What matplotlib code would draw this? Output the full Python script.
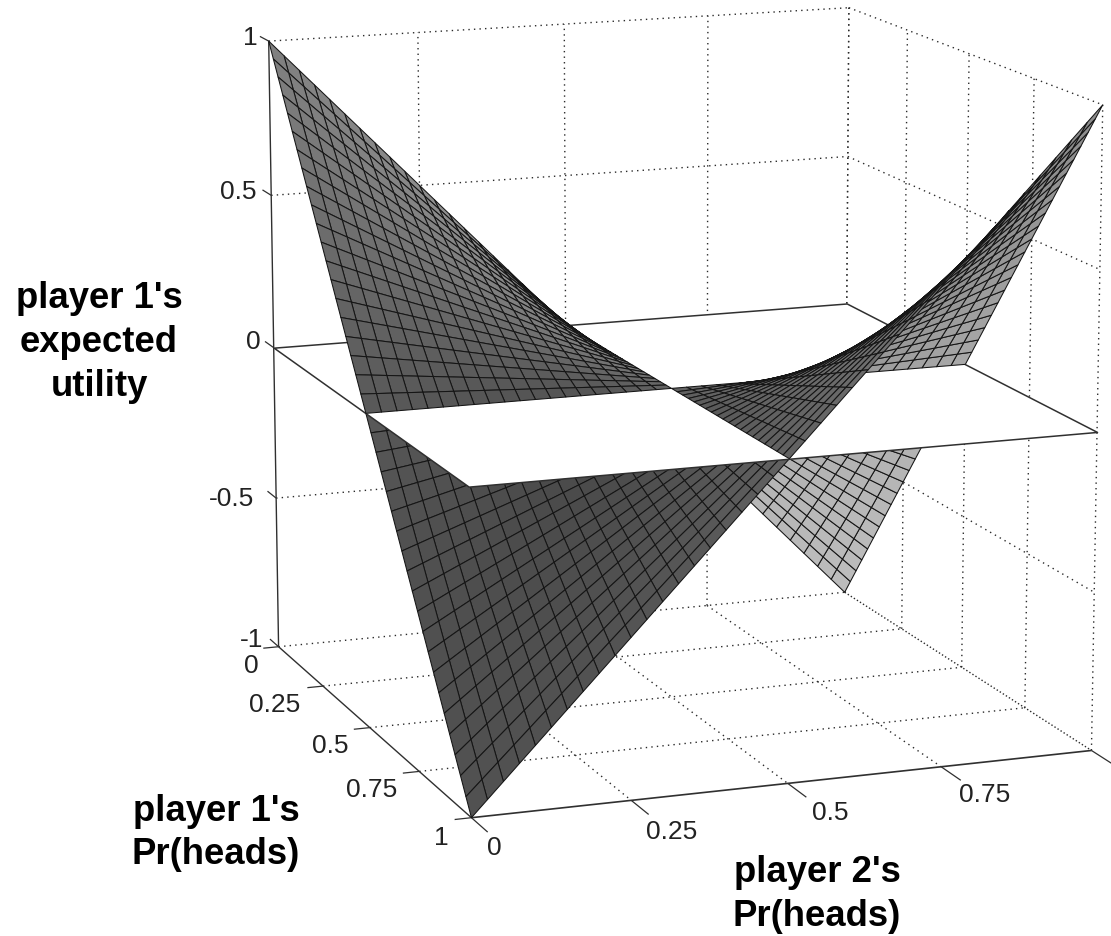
import numpy as np, matplotlib
matplotlib.use('Agg')
import matplotlib.pyplot as plt
from mpl_toolkits.mplot3d.art3d import Poly3DCollection

# ---- data ----
payoff = np.array([[1.0, -1.0], [-1.0, 1.0]])     # player 1's payoff: rows p1 H/T, cols p2 H/T
n_cells = 40
p_ticks = [0, 0.25, 0.5, 0.75, 1]
p_tick_labels = ['0', '0.25', '0.5', '0.75', '1']
z_ticks = [-1, -0.5, 0, 0.5, 1]
z_tick_labels = ['-1', '-0.5', '0', '0.5', '1']
plane_level = 0.0

# ---- layout / style ----
FW, FH = 1111, 937
ELEV, AZIM, BOX_X, BOX_Z, ZOOM = 12.76152, -20.3118, 1.0061, 1.00272, 1.05546
PX_SCALE, PX_X0, PX_Y0 = 5518.549, 671.497, 389.382
FONT = 'Liberation Sans'
TICK_FS = 19
TITLE_FS = 26.3
LINE = '#303030'
GRID = '#2a2a2a'
DOT = (0, (1, 3))
EDGE = '#151515'
EDGE_LW = 0.75

fig = plt.figure(figsize=(FW / 100, FH / 100), dpi=100, facecolor='white')
ax = fig.add_axes([0, 0, 1, 1], projection='3d', computed_zorder=False)
ax.set_xlim(0, 1); ax.set_ylim(0, 1); ax.set_zlim(-1, 1)
ax.set_proj_type('persp', focal_length=1.0)
ax.view_init(ELEV, AZIM)
ax.set_box_aspect((BOX_X, 1, BOX_Z), zoom=ZOOM)
ax.set_axis_off()
ax.patch.set_alpha(0)
vx0, vy0, vx1, vy1 = ax.viewLim.extents
ax.set_position([(PX_X0 + PX_SCALE * vx0) / FW,
                 (FH - PX_Y0 + PX_SCALE * vy0) / FH,
                 PX_SCALE * (vx1 - vx0) / FW,
                 PX_SCALE * (vy1 - vy0) / FH])

# ---- expected utility surface ----
grid = np.linspace(0, 1, n_cells + 1)
A, B = np.meshgrid(grid, grid, indexing='ij')      # A = p1, B = p2
Z = ((1 - A) * (1 - B) * payoff[0, 0] + (1 - A) * B * payoff[0, 1]
     + A * (1 - B) * payoff[1, 0] + A * B * payoff[1, 1])


def shade(a, b):
    dzda = (1 - b) * (payoff[1, 0] - payoff[0, 0]) + b * (payoff[1, 1] - payoff[0, 1])
    dzdb = (1 - a) * (payoff[0, 1] - payoff[0, 0]) + a * (payoff[1, 1] - payoff[1, 0])
    norm = np.sqrt(dzda ** 2 + dzdb ** 2 + 1)
    g = 0.60 - 0.176 * (-dzda / norm) + 0.139 * (-dzdb / norm) - 0.21 * (1 / norm)
    return float(np.clip(g, 0, 1))


low, low_c, high, high_c = [], [], [], []
for i in range(n_cells):
    for j in range(n_cells):
        q = [(A[i, j], B[i, j], Z[i, j]), (A[i + 1, j], B[i + 1, j], Z[i + 1, j]),
             (A[i + 1, j + 1], B[i + 1, j + 1], Z[i + 1, j + 1]), (A[i, j + 1], B[i, j + 1], Z[i, j + 1])]
        g = shade((A[i, j] + A[i + 1, j]) / 2, (B[i, j] + B[i, j + 1]) / 2)
        if Z[i:i + 2, j:j + 2].mean() < plane_level:
            low.append(q); low_c.append((g, g, g))
        else:
            high.append(q); high_c.append((g, g, g))


# ---- grid, box and ticks (behind everything) ----
def gline(x, y, z, ls=DOT):
    ax.plot(x, y, z, color=GRID, lw=1.0, ls=ls, zorder=1)


def sline(x, y, z, lw=1.0, zo=1.5):
    ax.plot(x, y, z, color=LINE, lw=lw, zorder=zo, solid_capstyle='butt')


for t in p_ticks:
    if 0 < t < 1:
        gline([t, t], [0, 1], [-1, -1])      # floor
        gline([0, 1], [t, t], [-1, -1])
    if t > 0:
        gline([0, 0], [t, t], [-1, 1])       # wall p1 = 0
    if t < 1:
        gline([t, t], [1, 1], [-1, 1])       # wall p2 = 1
gline([1, 1], [1, 1], [-1, 1])
for z in z_ticks:
    if z != plane_level:
        gline([0, 0], [0, 1], [z, z])
        gline([0, 1], [1, 1], [z, z], ls=(0, (1, 1.6)) if z == -1 else DOT)

sline([0, 0], [0, 0], [-1, 1])
sline([0, 1], [0, 0], [-1, -1])
sline([1, 1], [0, 1], [-1, -1], lw=1.2)
for z in z_ticks:
    sline([0, -0.05], [0, 0], [z, z], lw=0.9)
for t in p_ticks:
    sline([t, t], [0, -0.026], [-1, -1], lw=0.9)
    sline([1, 1.075], [t, t], [-1, -1], lw=0.9)

# ---- painter order: below plane, plane, above plane ----
coll_low = Poly3DCollection(low, facecolors=low_c, edgecolors=EDGE, linewidths=EDGE_LW, zorder=3)
ax.add_collection3d(coll_low)
plane = [(0, 0, plane_level), (1, 0, plane_level), (1, 1, plane_level), (0, 1, plane_level)]
coll_plane = Poly3DCollection([plane], facecolors='white', edgecolors=LINE, linewidths=1.1, zorder=4)
ax.add_collection3d(coll_plane)
coll_high = Poly3DCollection(high, facecolors=high_c, edgecolors=EDGE, linewidths=EDGE_LW, zorder=5)
ax.add_collection3d(coll_high)
ax.set_xlim(0, 1); ax.set_ylim(0, 1); ax.set_zlim(-1, 1)


# ---- text ----
def label(px, py, s, **kw):
    fig.text(px / FW, 1 - py / FH, s, family=FONT, ha=kw.pop('ha', 'center'), va='center', **kw)


z_lab_pos = [(252, 640), (232, 499), (253, 342), (238, 192), (250, 38)]
for (px, py), s in zip(z_lab_pos, z_tick_labels):
    label(px, py, s, fontsize=TICK_FS, color='#222222')
p1_lab_pos = [(251, 666), (275, 705), (330, 746), (372, 790), (441, 838)]
for (px, py), s in zip(p1_lab_pos, p_tick_labels):
    label(px, py, s, fontsize=TICK_FS, color='#222222')
p2_lab_pos = [(494, 848), (672, 832), (830, 813), (985, 795)]
for (px, py), s in zip(p2_lab_pos, p_tick_labels):
    label(px, py, s, fontsize=TICK_FS, color='#222222')

for py, s in zip((299, 343, 387), ("player 1's", "expected", "utility")):
    label(99, py, s, fontsize=TITLE_FS, fontweight='bold', color='black')
for py, s in zip((812, 855), ("player 1's", "Pr(heads)")):
    label(216, py, s, fontsize=TITLE_FS, fontweight='bold', color='black')
for py, s in zip((873, 917), ("player 2's", "Pr(heads)")):
    label(817, py, s, fontsize=TITLE_FS, fontweight='bold', color='black')

fig.savefig('out.png', dpi=100)
